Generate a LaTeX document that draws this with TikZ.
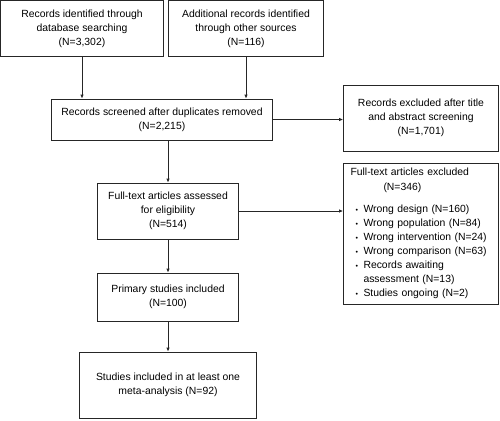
\documentclass[tikz,border=0pt]{standalone}
\usepackage{fontspec}
\setmainfont{Liberation Sans}
\usetikzlibrary{arrows.meta}
\newcommand{\bul}{\hspace*{5pt}\makebox[8pt][l]{\raisebox{0.5pt}{\scriptsize\textbullet}}}
\begin{document}
\begin{tikzpicture}[x=1pt,y=-1pt,
  font=\fontsize{10.4}{14}\selectfont,
  box/.style={draw=black!85, line width=0.8pt, align=center, inner sep=2pt},
  arr/.style={draw=black!85, line width=0.8pt, -{Latex[length=4pt,width=3.5pt]}}]
\useasboundingbox (0,0) rectangle (500,420);
\node[box, minimum width=163pt, minimum height=56pt] (b1) at (82,28.5)
  {Records identified through\\database searching\\(N=3,302)};
\node[box, minimum width=155pt, minimum height=56pt] (b2) at (246,28.5)
  {Additional records identified\\through other sources\\(N=116)};
\node[box, minimum width=221pt, minimum height=41pt] (b3) at (162,119.5)
  {Records screened after duplicates removed\\(N=2,215)};
\node[box, minimum width=155pt, minimum height=66pt] (b4) at (421,118)
  {Records excluded after title\\and abstract screening\\(N=1,701)};
\node[box, minimum width=141pt, minimum height=56pt] (b5) at (168,211)
  {Full-text articles assessed\\for eligibility\\(N=514)};
\node[box, minimum width=155pt, minimum height=141pt, align=left, text width=141pt, inner xsep=7pt] (b6) at (421,233.5)
  {Full-text articles excluded\\[1pt]
   \hspace*{33pt}(N=346)\\[8pt]
   \bul Wrong design (N=160)\\
   \bul Wrong population (N=84)\\
   \bul Wrong intervention (N=24)\\
   \bul Wrong comparison (N=63)\\
   \bul Records awaiting\\
   \hspace*{13pt}assessment (N=13)\\
   \bul Studies ongoing (N=2)};
\node[box, minimum width=141pt, minimum height=48pt] (b7) at (168,297)
  {Primary studies included\\(N=100)};
\node[box, minimum width=177pt, minimum height=66pt] (b8) at (168,385)
  {Studies included in at least one\\meta-analysis (N=92)};
\draw[arr] (b1.south) -- (b1.south |- b3.north);
\draw[arr] (b2.south) -- (b2.south |- b3.north);
\draw[arr] (b3.east) -- (b3.east -| b4.west);
\draw[arr] (b5.north |- b3.south) -- (b5.north);
\draw[arr] (b5.east) -- (b5.east -| b6.west);
\draw[arr] (b5.south) -- (b7.north);
\draw[arr] (b7.south) -- (b8.north);
\end{tikzpicture}
\end{document}
